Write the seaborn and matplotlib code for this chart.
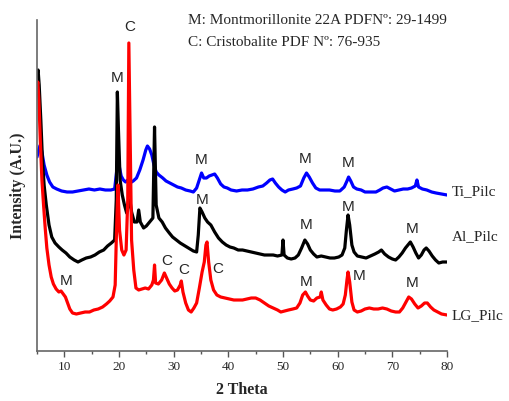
import numpy as np
import pandas as pd
import matplotlib
matplotlib.use("Agg")
import matplotlib.pyplot as plt
import seaborn as sns

# ---- data (2θ in degrees, intensity in arbitrary units) ----
ti_theta = [5.0, 5.3, 5.6, 5.9, 6.3, 6.8, 7.3, 7.9, 8.6, 9.5, 10.5, 11.5, 12.5, 13.5, 14.5, 15.5, 16.5, 17.5, 18.5, 19.2,
            19.6, 19.8, 20.0, 20.4, 20.8, 21.2, 21.6, 22.0, 22.6, 23.2, 23.8, 24.4, 24.9, 25.2, 25.6, 26.0, 26.4, 26.8, 27.3, 28.0,
            28.6, 29.3, 30.0, 30.7, 31.4, 32.2, 33.0, 33.6, 34.2, 34.8, 35.1, 35.5, 36.0, 36.5, 37.0, 37.5, 38.0, 38.6, 39.2, 39.8,
            40.5, 41.5, 42.5, 43.5, 44.5, 45.5, 46.3, 47.0, 47.6, 48.1, 48.6, 49.2, 49.8, 50.4, 51.0, 51.8, 52.5, 53.2, 53.8, 54.3,
            54.8, 55.4, 56.0, 56.7, 57.5, 58.5, 59.5, 60.4, 61.2, 61.7, 62.0, 62.4, 62.9, 63.5, 64.3, 65.0, 66.0, 67.0, 67.7, 68.3,
            69.0, 69.7, 70.4, 71.2, 72.0, 72.8, 73.5, 74.2, 74.5, 74.8, 75.5, 76.3, 77.2, 78.0, 79.0, 80.0]
ti_int = [194, 201, 206, 199, 186, 176, 169, 164, 162, 160, 159, 159, 160, 161, 162, 161, 162, 161, 161, 162,
          181, 196, 186, 175, 171, 169, 171, 168, 170, 173, 181, 191, 201, 205, 202, 196, 186, 179, 176, 173,
          170, 168, 166, 164, 163, 161, 160, 159, 163, 173, 178, 173, 173, 175, 176, 177, 173, 167, 164, 163,
          161, 160, 161, 161, 162, 164, 165, 168, 171, 172, 168, 164, 161, 159, 161, 162, 163, 165, 173, 178,
          174, 168, 163, 161, 161, 161, 160, 160, 164, 170, 174, 170, 164, 162, 161, 159, 159, 159, 161, 163,
          164, 162, 160, 161, 162, 162, 163, 165, 171, 164, 162, 161, 159, 158, 157, 156]

al_theta = [5.0, 5.2, 5.4, 5.7, 6.0, 6.3, 6.7, 7.2, 7.7, 8.3, 9.0, 9.6, 10.3, 11.0, 11.8, 12.5, 13.2, 14.0, 14.8, 15.6,
            16.4, 17.2, 17.9, 18.6, 19.2, 19.5, 19.7, 19.9, 20.2, 20.6, 21.0, 21.4, 21.7, 22.0, 22.3, 22.8, 23.3, 23.6, 23.9, 24.5,
            25.0, 25.6, 26.2, 26.5, 26.8, 27.3, 27.9, 28.5, 29.2, 29.8, 30.5, 31.2, 31.8, 32.4, 33.0, 33.6, 34.2, 34.5, 34.8, 35.2,
            35.7, 36.2, 36.8, 37.5, 38.2, 38.9, 39.6, 40.3, 41.0, 41.8, 42.6, 43.4, 44.2, 45.0, 45.8, 46.6, 47.4, 48.2, 49.0, 49.8,
            50.0, 50.2, 50.8, 51.5, 52.2, 52.8, 53.4, 54.0, 54.5, 55.0, 55.6, 56.2, 57.0, 57.8, 58.6, 59.4, 60.2, 60.8, 61.3, 61.6,
            61.9, 62.2, 62.6, 63.0, 63.6, 64.4, 65.2, 66.0, 66.8, 67.5, 68.0, 68.6, 69.3, 70.0, 70.6, 71.2, 71.8, 72.4, 73.0, 73.3,
            73.8, 74.3, 74.8, 75.3, 75.8, 76.2, 76.7, 77.3, 77.9, 78.5, 79.2, 80.0]
al_int = [276, 281, 266, 231, 191, 166, 146, 126, 114, 108, 104, 101, 98, 94, 91, 89, 91, 93, 94, 96,
          99, 101, 105, 108, 111, 151, 259, 221, 171, 156, 146, 138, 146, 151, 139, 129, 129, 141, 129, 123,
          125, 129, 133, 224, 146, 133, 129, 123, 118, 114, 111, 108, 106, 104, 102, 100, 99, 116, 143, 139,
          133, 129, 126, 119, 113, 109, 106, 104, 103, 101, 101, 100, 99, 98, 97, 96, 96, 96, 95, 96,
          111, 96, 93, 92, 93, 96, 103, 111, 107, 101, 97, 94, 95, 94, 93, 93, 94, 96, 103, 121,
          136, 126, 106, 99, 95, 94, 93, 95, 97, 99, 101, 97, 94, 92, 91, 94, 98, 103, 107, 109,
          104, 98, 93, 96, 101, 103, 100, 95, 91, 88, 89, 89]

lg_theta = [5.0, 5.15, 5.35, 5.6, 5.9, 6.2, 6.5, 6.8, 7.2, 7.6, 8.0, 8.5, 9.0, 9.4, 9.8, 10.2, 10.6, 11.0, 11.5, 12.2,
            13.0, 13.8, 14.6, 15.4, 16.2, 17.0, 17.7, 18.3, 18.9, 19.3, 19.5, 19.8, 20.1, 20.5, 20.9, 21.3, 21.6, 21.8, 22.0, 22.3,
            22.7, 23.1, 23.6, 24.2, 24.8, 25.4, 26.0, 26.3, 26.5, 26.7, 27.2, 27.8, 28.3, 28.7, 29.2, 29.7, 30.2, 30.7, 31.2, 31.4,
            31.7, 32.2, 32.7, 33.2, 33.7, 34.2, 34.7, 35.2, 35.6, 35.9, 36.1, 36.4, 36.8, 37.3, 37.9, 38.6, 39.4, 40.2, 41.0, 41.8,
            42.6, 43.4, 44.2, 45.0, 45.8, 46.6, 47.4, 48.2, 49.0, 49.6, 50.3, 51.0, 51.8, 52.5, 53.1, 53.6, 54.1, 54.5, 55.0, 55.6,
            56.2, 56.8, 57.0, 57.3, 57.9, 58.5, 59.1, 59.8, 60.5, 61.0, 61.4, 61.7, 61.9, 62.2, 62.6, 63.0, 63.6, 64.3, 65.0, 65.8,
            66.6, 67.4, 68.2, 69.0, 69.8, 70.6, 71.3, 71.9, 72.5, 73.0, 73.5, 74.1, 74.7, 75.3, 75.9, 76.4, 77.0, 77.6, 78.3, 79.0,
            80.0]
lg_int = [263, 269, 251, 211, 171, 146, 123, 103, 86, 74, 67, 62, 59, 60, 57, 54, 48, 42, 38, 37,
          38, 39, 39, 41, 42, 44, 47, 50, 54, 66, 111, 166, 121, 101, 96, 101, 151, 308, 231, 111,
          81, 63, 61, 62, 63, 62, 66, 71, 86, 68, 67, 71, 78, 73, 67, 63, 60, 61, 66, 70,
          59, 48, 41, 39, 43, 48, 63, 79, 89, 106, 109, 89, 71, 61, 56, 54, 53, 52, 51, 51,
          51, 52, 53, 53, 51, 48, 45, 43, 41, 39, 40, 41, 42, 43, 48, 56, 59, 55, 51, 50,
          53, 54, 59, 51, 46, 42, 41, 42, 44, 47, 56, 71, 79, 69, 49, 41, 39, 40, 42, 43,
          42, 42, 43, 42, 40, 39, 39, 43, 49, 54, 52, 47, 43, 45, 48, 48, 44, 41, 39, 37,
          36]

series_names = ["Ti_Pilc", "Al_Pilc", "LG_Pilc"]
series_colors = ["#0000FF", "#000000", "#FF0000"]
xticks = [10, 20, 30, 40, 50, 60, 70, 80]

df = pd.concat([
    pd.DataFrame({"theta": ti_theta, "intensity": ti_int, "sample": "Ti_Pilc"}),
    pd.DataFrame({"theta": al_theta, "intensity": al_int, "sample": "Al_Pilc"}),
    pd.DataFrame({"theta": lg_theta, "intensity": lg_int, "sample": "LG_Pilc"}),
], ignore_index=True)

sns.set_style("ticks")
plt.rcParams["font.family"] = ["Liberation Serif", "DejaVu Serif"]

fig = plt.figure(figsize=(5.10, 4.01), dpi=100)
ax = fig.add_axes([37 / 510, 1 - 351 / 401, (447 - 37) / 510, (351 - 20) / 401])

sns.lineplot(data=df, x="theta", y="intensity", hue="sample", hue_order=series_names,
             palette=dict(zip(series_names, series_colors)), estimator=None, sort=False,
             linewidth=2.3, legend=False, ax=ax)

ax.set_xlim(5, 80)
ax.set_ylim(0, 331)
ax.set_xticks(xticks)
ax.set_xticks([5, 15, 25, 35, 45, 55, 65, 75], minor=True)
ax.set_xticklabels([str(t) for t in xticks], fontsize=9.5)
ax.set_yticks([])
ax.tick_params(axis="x", which="major", length=4, width=1, color="#555555", pad=3)
ax.tick_params(axis="x", which="minor", length=2.5, width=1, color="#555555")
for s in ["top", "right"]:
    ax.spines[s].set_visible(False)
for s in ["left", "bottom"]:
    ax.spines[s].set_color("#666666")
    ax.spines[s].set_linewidth(1.2)

ax.set_xlabel("2 Theta", fontsize=11.5, fontweight="bold", labelpad=7)
ax.set_ylabel("Intensity (A.U.)", fontsize=11.5, fontweight="bold", labelpad=8)

# series labels at right
tr = ax.get_yaxis_transform()
for name, yv in zip(series_names, [159, 114, 35]):
    ax.text(1.012, yv, name, transform=tr, fontsize=11, va="center", ha="left", clip_on=False)

# phase reference text
fig.text(188 / 510, 1 - 20 / 401, "M: Montmorillonite 22A PDFNº: 29-1499", fontsize=11, va="center", ha="left")
fig.text(188 / 510, 1 - 43 / 401, "C: Cristobalite PDF Nº: 76-935", fontsize=11, va="center", ha="left")

# peak markers (2θ, intensity, letter)
mark_theta = [21.9, 19.6, 35.0, 54.0, 62.0, 35.2, 54.2, 62.0, 73.6, 10.3, 28.7, 31.8, 38.1, 54.2, 63.9, 73.6]
mark_int = [324, 273, 191, 192, 188, 151, 126, 144, 122, 70, 90, 81, 82, 69, 75, 68]
mark_txt = ["C", "M", "M", "M", "M", "M", "M", "M", "M", "M", "C", "C", "C", "M", "M", "M"]
for t, v, s in zip(mark_theta, mark_int, mark_txt):
    ax.text(t, v, s, fontsize=11, family=["Liberation Sans", "DejaVu Sans"], ha="center", va="center")

fig.savefig("out.png", dpi=100)
